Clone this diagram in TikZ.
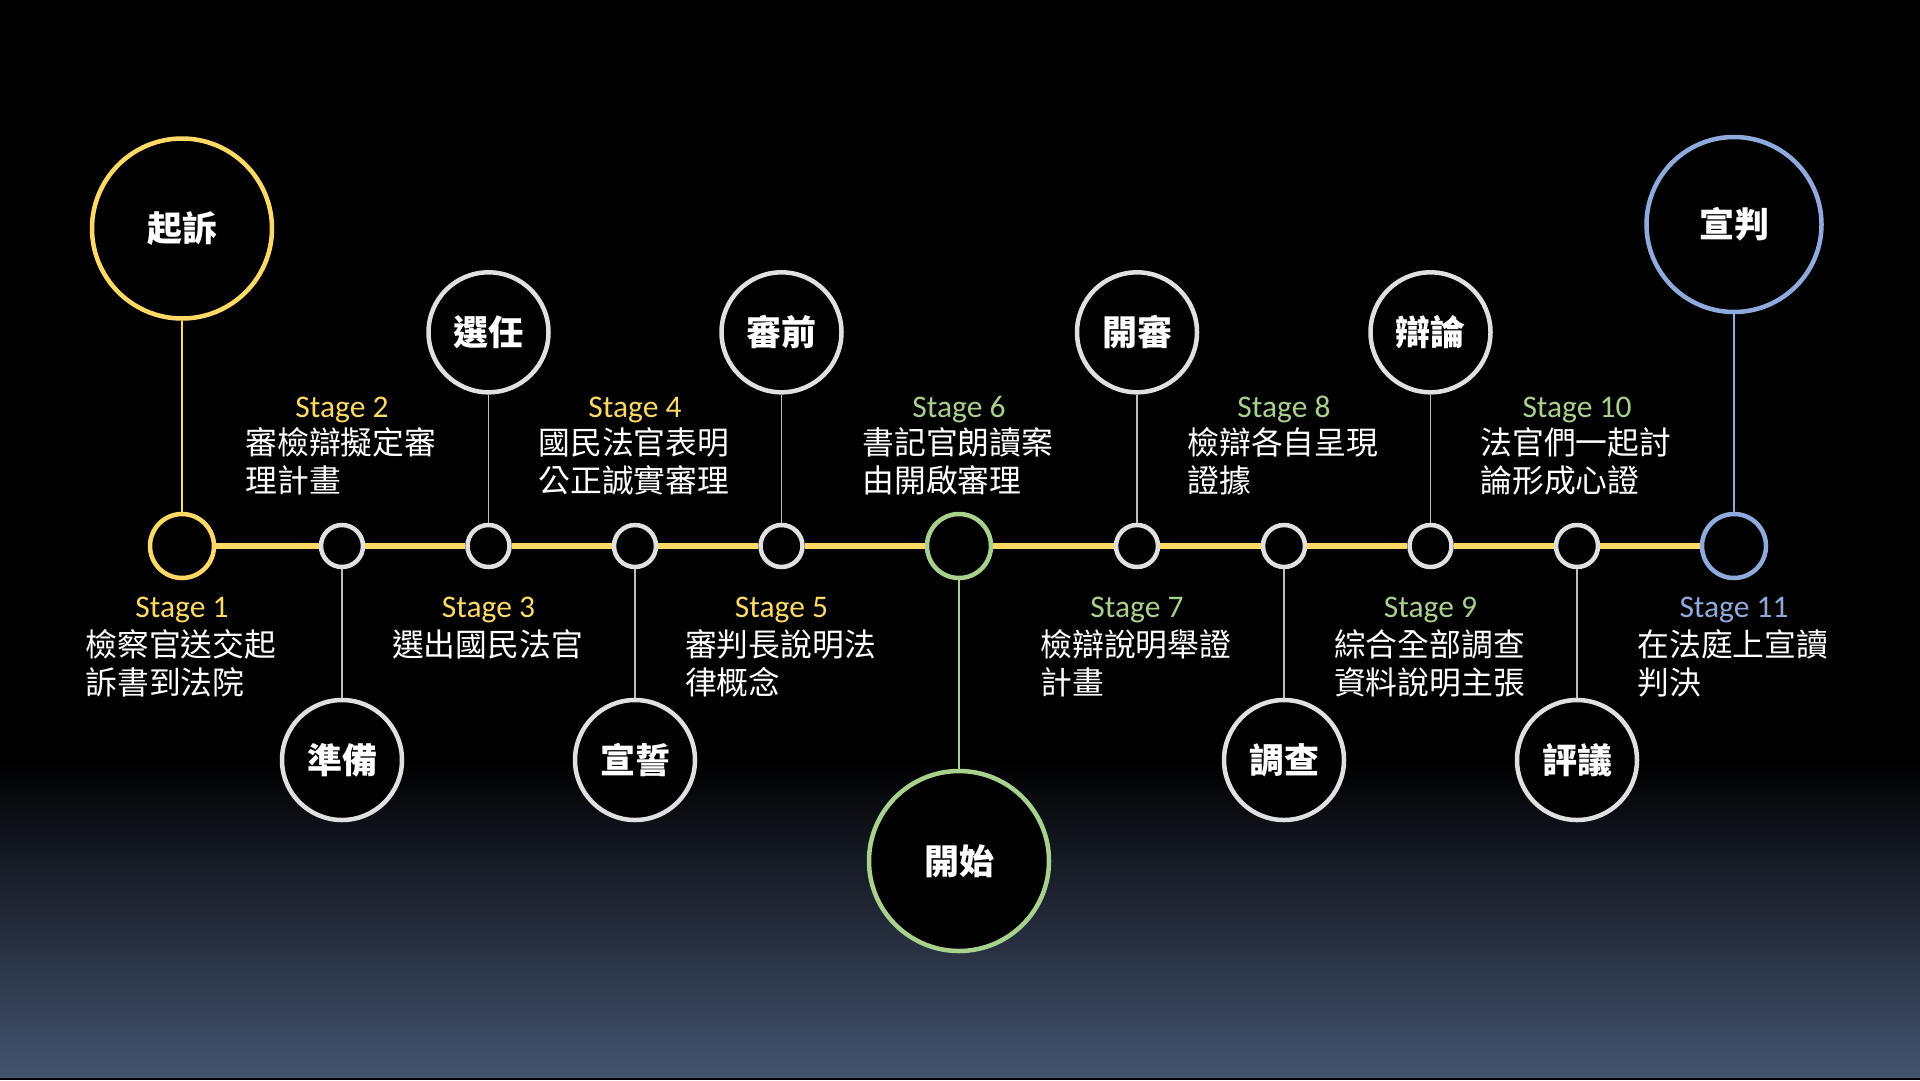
\documentclass[tikz,border=0pt]{standalone}
\usepackage{fontspec}
\setmainfont{Carlito}
\newfontfamily\cjk{Noto Sans CJK TC}
\definecolor{cyel}{RGB}{255,217,102}
\definecolor{cgrn}{RGB}{169,209,142}
\definecolor{cblu}{RGB}{143,170,220}
\definecolor{cgry}{RGB}{224,224,224}
\definecolor{cgryln}{RGB}{190,190,190}
\definecolor{bgbot}{RGB}{68,84,112}
\begin{document}
\begin{tikzpicture}[x=1pt,y=-1pt,
  circ/.style={circle,draw,fill=black,line width=4.5pt,inner sep=0pt,text=white,
    font=\cjk\bfseries\fontsize{35}{40}\selectfont},
  bigc/.style={circ,minimum size=180pt},
  medc/.style={circ,draw=cgry,minimum size=120pt},
  endc/.style={circ,minimum size=64pt},
  smallc/.style={circ,draw=cgry,minimum size=42pt},
  stagelbl/.style={anchor=base,inner sep=0pt,font=\fontsize{31.5}{36}\selectfont},
  bodytxt/.style={anchor=base,inner sep=0pt,text width=193pt,align=left,text=white,
    font=\cjk\fontsize{31.8}{38}\selectfont},
  tl/.style={draw=cyel,line width=6pt},
  conn/.style={line width=1.8pt}]
\useasboundingbox (0,0) rectangle (1920,1080);
% background
\fill[black] (0,0) rectangle (1920,761);
\shade[top color=black,bottom color=bgbot] (0,760) rectangle (1920,1078);
\fill[black] (0,1078) rectangle (1920,1080);

% timeline nodes
\node[endc,draw=cyel] (s1) at (182,546) {};
\node[smallc] (s2) at (342,546) {};
\node[smallc] (s3) at (488.5,546) {};
\node[smallc] (s4) at (635,546) {};
\node[smallc] (s5) at (781.5,546) {};
\node[endc,draw=cgrn] (s6) at (959,546) {};
\node[smallc] (s7) at (1137,546) {};
\node[smallc] (s8) at (1284,546) {};
\node[smallc] (s9) at (1430.5,546) {};
\node[smallc] (s10) at (1577,546) {};
\node[endc,draw=cblu] (s11) at (1734,546) {};

% big / medium circles
\node[bigc,draw=cyel] (qisu) at (182,228.5) {起訴};
\node[bigc,draw=cblu,minimum size=175pt] (xuanpan) at (1734,224.5) {宣判};
\node[bigc,draw=cgrn] (kaishi) at (959,861) {開始};
\node[medc] (xuanren) at (488.5,332.3) {選任};
\node[medc] (shenqian) at (781.5,332.3) {審前};
\node[medc] (kaishen) at (1137,332.3) {開審};
\node[medc] (bianlun) at (1430.5,332.3) {辯論};
\node[medc] (zhunbei) at (342,760) {準備};
\node[medc] (xuanshi) at (635,760) {宣誓};
\node[medc] (diaocha) at (1284,760) {調查};
\node[medc] (pingyi) at (1577,760) {評議};

% timeline segments
\foreach \a/\b in {s1/s2,s2/s3,s3/s4,s4/s5,s5/s6,s6/s7,s7/s8,s8/s9,s9/s10,s10/s11}
  \draw[tl] (\a) -- (\b);

% connectors
\draw[conn,cyel] (qisu) -- (s1);
\draw[conn,cblu] (xuanpan) -- (s11);
\draw[conn,cgrn] (kaishi) -- (s6);
\draw[conn,cgryln] (xuanren) -- (s3);
\draw[conn,cgryln] (shenqian) -- (s5);
\draw[conn,cgryln] (kaishen) -- (s7);
\draw[conn,cgryln] (bianlun) -- (s9);
\draw[conn,cgryln] (zhunbei) -- (s2);
\draw[conn,cgryln] (xuanshi) -- (s4);
\draw[conn,cgryln] (diaocha) -- (s8);
\draw[conn,cgryln] (pingyi) -- (s10);

% stage labels (below: odd)
\node[stagelbl,text=cyel] (t1) at (182,617) {Stage 1};
\node[bodytxt] (b1) at (182,656.5) {檢察官送交起\\訴書到法院};
\node[stagelbl,text=cyel] (t3) at (488.5,617) {Stage 3};
\node[bodytxt] (b3) at (488.5,656.5) {選出國民法官};
\node[stagelbl,text=cyel] (t5) at (781.5,617) {Stage 5};
\node[bodytxt] (b5) at (781.5,656.5) {審判長說明法\\律概念};
\node[stagelbl,text=cgrn] (t7) at (1137,617) {Stage 7};
\node[bodytxt] (b7) at (1137,656.5) {檢辯說明舉證\\計畫};
\node[stagelbl,text=cgrn] (t9) at (1430.5,617) {Stage 9};
\node[bodytxt] (b9) at (1430.5,656.5) {綜合全部調查\\資料說明主張};
\node[stagelbl,text=cblu] (t11) at (1734,617) {Stage 11};
\node[bodytxt] (b11) at (1734,656.5) {在法庭上宣讀\\判決};

% stage labels (above: even)
\node[stagelbl,text=cyel] (t2) at (342,417) {Stage 2};
\node[bodytxt] (b2) at (342,454.5) {審檢辯擬定審\\理計畫};
\node[stagelbl,text=cyel] (t4) at (635,417) {Stage 4};
\node[bodytxt] (b4) at (635,454.5) {國民法官表明\\公正誠實審理};
\node[stagelbl,text=cgrn] (t6) at (959,417) {Stage 6};
\node[bodytxt] (b6) at (959,454.5) {書記官朗讀案\\由開啟審理};
\node[stagelbl,text=cgrn] (t8) at (1284,417) {Stage 8};
\node[bodytxt] (b8) at (1284,454.5) {檢辯各自呈現\\證據};
\node[stagelbl,text=cgrn] (t10) at (1577,417) {Stage 10};
\node[bodytxt] (b10) at (1577,454.5) {法官們一起討\\論形成心證};
\end{tikzpicture}
\end{document}
